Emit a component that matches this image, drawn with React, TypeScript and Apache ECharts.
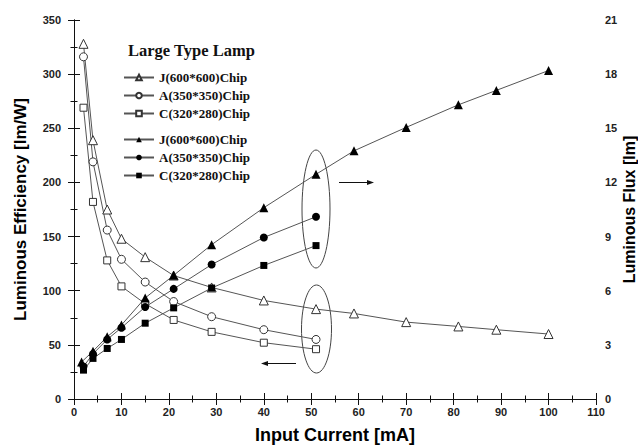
import React, { useEffect, useRef } from "react";
import * as echarts from "echarts";

// Input currents [mA]
const currentsLong = [2, 4, 7, 10, 15, 21, 29, 40, 51, 59, 70, 81, 89, 100];
const currentsFluxJ = [1.6, 4, 7, 10, 15, 21, 29, 40, 51, 59, 70, 81, 89, 100];
const currentsShort = [2, 4, 7, 10, 15, 21, 29, 40, 51];

// Luminous efficiency [lm/W] (left axis, open markers)
const effJ = [328, 239, 175, 148, 131, 114, 103, 91, 83, 79, 71, 67, 64, 60];
const effA = [316, 219, 156, 129, 108, 90, 76, 64, 55];
const effC = [269, 182, 128, 104, 88, 73, 62, 52, 46];

// Luminous flux [lm] (right axis, filled markers)
const fluxJ = [2.05, 2.65, 3.45, 4.1, 5.6, 6.85, 8.55, 10.6, 12.45, 13.75, 15.05, 16.3, 17.1, 18.2];
const fluxA = [1.8, 2.5, 3.3, 3.95, 5.1, 6.1, 7.45, 8.95, 10.1];
const fluxC = [1.6, 2.25, 2.8, 3.3, 4.2, 5.05, 6.15, 7.4, 8.5];

const chipNames = ["J(600*600)Chip", "A(350*350)Chip", "C(320*280)Chip"];
const FLUX_SUFFIX = " ";

const zip = (xs: number[], ys: number[]) => ys.map((y, i) => [xs[i], y]);

const SANS = "'Liberation Sans', Arial, sans-serif";
const SERIF = "'Liberation Serif', 'Times New Roman', serif";
const LINE = "#555";

export default function App() {
  const ref = useRef<HTMLDivElement>(null);
  useEffect(() => {
    if (!ref.current) return;
    const chart = echarts.init(ref.current, undefined, { renderer: "svg" });

    const openSeries = (name: string, data: number[][], symbol: string, size: number) => ({
      type: "line",
      name,
      data,
      xAxisIndex: 0,
      yAxisIndex: 0,
      symbol,
      symbolSize: size,
      showAllSymbol: true,
      lineStyle: { color: LINE, width: 1 },
      itemStyle: { color: "#fff", borderColor: "#333", borderWidth: 1 },
      emphasis: { disabled: true },
      z: 2,
    });
    const filledSeries = (name: string, data: number[][], symbol: string, size: number) => ({
      type: "line",
      name: name + FLUX_SUFFIX,
      data,
      xAxisIndex: 0,
      yAxisIndex: 1,
      symbol,
      symbolSize: size,
      showAllSymbol: true,
      lineStyle: { color: LINE, width: 1 },
      itemStyle: { color: "#000", borderColor: "#000", borderWidth: 0 },
      emphasis: { disabled: true },
      z: 3,
    });

    const axisCommon = {
      type: "value",
      splitLine: { show: false },
      axisLine: { show: true, lineStyle: { color: "#111", width: 1 } },
      axisTick: { show: true, inside: true, length: 6, lineStyle: { color: "#111" } },
      minorTick: { show: true, splitNumber: 2, length: 3.5, lineStyle: { color: "#111" } },
      minorSplitLine: { show: false },
    };
    const labelCommon = { fontFamily: SANS, fontSize: 11, fontWeight: "bold", color: "#222" };
    const legendCommon = {
      orient: "vertical",
      left: 123,
      padding: 0,
      itemWidth: 30,
      itemHeight: 7,
      itemGap: 5,
      selectedMode: false,
      textStyle: { fontFamily: SERIF, fontSize: 13, fontWeight: "bold", color: "#111", lineHeight: 12 },
    };

    chart.setOption({
      animation: false,
      backgroundColor: "#fff",
      grid: { left: 74, right: 42, top: 20, bottom: 46, containLabel: false, outerBoundsMode: "none" },
      title: {
        text: "Large Type Lamp",
        left: 128,
        top: 42,
        padding: 0,
        textStyle: { fontFamily: SERIF, fontSize: 16.5, fontWeight: "bold", color: "#111" },
      },
      legend: [
        { ...legendCommon, data: chipNames, top: 71 },
        {
          ...legendCommon,
          data: chipNames.map((n) => n + FLUX_SUFFIX),
          top: 133,
          formatter: (n: string) => n.trim(),
        },
      ],
      xAxis: [
        {
          ...axisCommon,
          position: "bottom",
          min: 0,
          max: 110,
          interval: 10,
          name: "Input Current [mA]",
          nameLocation: "middle",
          nameGap: 27,
          nameTextStyle: { fontFamily: SANS, fontSize: 18, fontWeight: "bold", color: "#000" },
          axisLabel: { ...labelCommon, margin: 7 },
        },
        {
          ...axisCommon,
          position: "top",
          min: 0,
          max: 110,
          interval: 10,
          axisLabel: { show: false },
        },
      ],
      yAxis: [
        {
          ...axisCommon,
          position: "left",
          min: 0,
          max: 350,
          interval: 50,
          name: "Luminous Efficiency [lm/W]",
          nameLocation: "middle",
          nameGap: 45,
          nameTextStyle: { fontFamily: SANS, fontSize: 17, fontWeight: "bold", color: "#000" },
          axisLabel: { ...labelCommon, margin: 13 },
        },
        {
          ...axisCommon,
          position: "right",
          min: 0,
          max: 21,
          interval: 3,
          name: "Luminous Flux [lm]",
          nameLocation: "middle",
          nameGap: 25,
          nameMoveOverlap: false,
          nameTextStyle: { fontFamily: SANS, fontSize: 16, fontWeight: "bold", color: "#000" },
          axisLabel: { ...labelCommon, margin: 9 },
        },
      ],
      series: [
        openSeries(chipNames[0], zip(currentsLong, effJ), "triangle", 9),
        openSeries(chipNames[1], zip(currentsShort, effA), "circle", 8),
        openSeries(chipNames[2], zip(currentsShort, effC), "rect", 7),
        filledSeries(chipNames[0], zip(currentsFluxJ, fluxJ), "triangle", 9),
        filledSeries(chipNames[1], zip(currentsShort, fluxA), "circle", 8),
        filledSeries(chipNames[2], zip(currentsShort, fluxC), "rect", 7),
      ],
      graphic: [
        { type: "ellipse", shape: { cx: 316, cy: 209, rx: 14, ry: 59 }, style: { fill: "none", stroke: "#444", lineWidth: 1 }, z: 1 },
        { type: "ellipse", shape: { cx: 316.5, cy: 329, rx: 15, ry: 44 }, style: { fill: "none", stroke: "#444", lineWidth: 1 }, z: 1 },
        { type: "line", shape: { x1: 339, y1: 182.5, x2: 370, y2: 182.5 }, style: { stroke: "#111", lineWidth: 1 } },
        { type: "polygon", shape: { points: [[374, 182.5], [367, 180], [367, 185]] }, style: { fill: "#111" } },
        { type: "line", shape: { x1: 265, y1: 363.5, x2: 296, y2: 363.5 }, style: { stroke: "#111", lineWidth: 1 } },
        { type: "polygon", shape: { points: [[261, 363.5], [268, 361], [268, 366]] }, style: { fill: "#111" } },
      ],
    });
    return () => chart.dispose();
  }, []);
  return <div ref={ref} style={{ width: 638, height: 445, position: "absolute", left: 0, top: 0 }} />;
}
